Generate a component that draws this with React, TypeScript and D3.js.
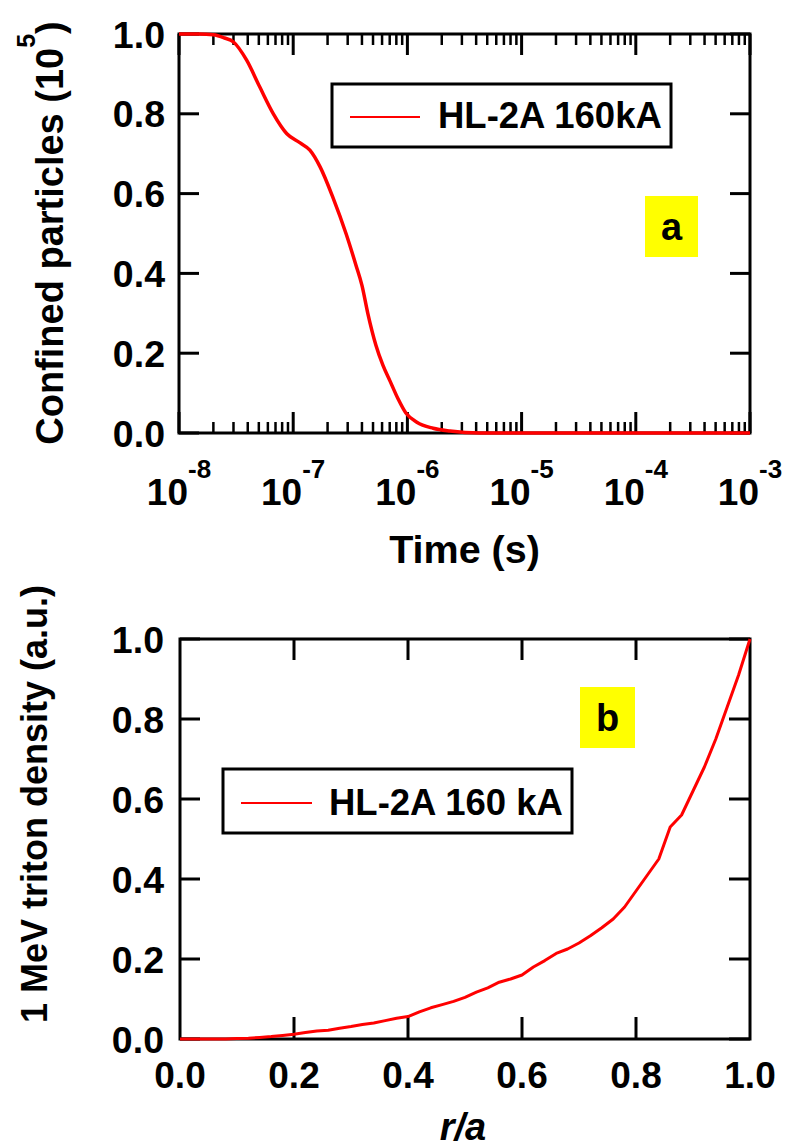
import React from "react";
import * as d3 from "d3";

// Panel a: confined particle count (units of 1e5) versus time
const timeS = [
  1e-8, 1.5e-8, 2e-8, 2.5e-8, 3e-8, 3.9e-8, 5.1e-8, 6.7e-8, 8.8e-8, 1.15e-7,
  1.4e-7, 1.72e-7, 2.23e-7, 2.9e-7, 3.55e-7, 4e-7, 4.5e-7, 5.3e-7, 6.1e-7,
  7.05e-7, 8.3e-7, 9.7e-7, 1.21e-6, 1.68e-6, 2.36e-6, 4.3e-6, 1e-5, 1e-4, 1e-3,
];
const confined = [
  1.0, 1.0, 0.998, 0.99, 0.98, 0.935, 0.867, 0.8, 0.75, 0.727, 0.709, 0.667,
  0.59, 0.5, 0.42, 0.37, 0.3, 0.22, 0.17, 0.13, 0.085, 0.05, 0.027, 0.012,
  0.005, 0, 0, 0, 0,
];

// Panel b: 1 MeV triton density profile versus normalised radius
const rOverA = [
  0, 0.02, 0.04, 0.06, 0.08, 0.1, 0.12, 0.14, 0.16, 0.18, 0.2, 0.22, 0.24,
  0.26, 0.28, 0.3, 0.32, 0.34, 0.36, 0.38, 0.4, 0.42, 0.44, 0.46, 0.48, 0.5,
  0.52, 0.54, 0.56, 0.58, 0.6, 0.62, 0.64, 0.66, 0.68, 0.7, 0.72, 0.74, 0.76,
  0.78, 0.8, 0.82, 0.84, 0.86, 0.88, 0.9, 0.92, 0.94, 0.96, 0.98, 1.0,
];
const tritonDensity = [
  0, 0, 0, 0, 0, 0.001, 0.002, 0.004, 0.006, 0.009, 0.012, 0.016, 0.02, 0.022,
  0.027, 0.031, 0.036, 0.04, 0.046, 0.052, 0.056, 0.068, 0.078, 0.086, 0.094,
  0.104, 0.117, 0.128, 0.142, 0.15, 0.16, 0.18, 0.196, 0.214, 0.225, 0.24,
  0.258, 0.278, 0.3, 0.33, 0.37, 0.41, 0.45, 0.53, 0.56, 0.62, 0.68, 0.75,
  0.83, 0.91, 1.0,
];

const yTicks = [0, 0.2, 0.4, 0.6, 0.8, 1.0];
const yTickLabels = ["0.0", "0.2", "0.4", "0.6", "0.8", "1.0"];
const decadeExps = [-8, -7, -6, -5, -4, -3];
const rTicks = [0, 0.2, 0.4, 0.6, 0.8, 1.0];
const rTickLabels = ["0.0", "0.2", "0.4", "0.6", "0.8", "1.0"];

const seriesLabelA = "HL-2A 160kA";
const seriesLabelB = "HL-2A 160 kA";

const FONT = "'Liberation Sans', Arial, Helvetica, sans-serif";
const RED = "#ff0000";

export default function App() {
  // scales, panel a
  const xA = d3.scaleLog().domain([1e-8, 1e-3]).range([179, 750]);
  const yA = d3.scaleLinear().domain([0, 1]).range([433, 34]);
  // scales, panel b
  const xB = d3.scaleLinear().domain([0, 1]).range([180, 750]);
  const yB = d3.scaleLinear().domain([0, 1]).range([1039, 639]);

  const lineA = d3
    .line<number>()
    .x((_, i) => xA(timeS[i]))
    .y((d) => yA(d))
    .curve(d3.curveMonotoneX);
  const lineB = d3
    .line<number>()
    .x((_, i) => xB(rOverA[i]))
    .y((d) => yB(d))
    .curve(d3.curveLinear);

  const majorDecades = decadeExps.map((e) => Math.pow(10, e));
  const minorLog: number[] = [];
  decadeExps.slice(0, -1).forEach((e) => {
    for (let k = 2; k <= 9; k++) minorLog.push(k * Math.pow(10, e));
  });

  const [ax0, ax1] = xA.range();
  const [ay0, ay1] = yA.range(); // bottom, top
  const [bx0, bx1] = xB.range();
  const [by0, by1] = yB.range();

  const axisStroke = { stroke: "#000", strokeWidth: 3, fill: "none" };
  const major = 21;
  const minor = 11;

  return (
    <svg
      width={787}
      height={1147}
      style={{ position: "absolute", left: 0, top: 0, background: "#fff" }}
      fontFamily={FONT}
      fontWeight="bold"
    >
      {/* ---------- Panel a ---------- */}
      <g>
        {/* log ticks on bottom and top */}
        {majorDecades.map((v, i) => (
          <g key={"ma" + i}>
            <line x1={xA(v)} x2={xA(v)} y1={ay0} y2={ay0 - major} {...axisStroke} />
            <line x1={xA(v)} x2={xA(v)} y1={ay1} y2={ay1 + major} {...axisStroke} />
          </g>
        ))}
        {minorLog.map((v, i) => (
          <g key={"mi" + i}>
            <line x1={xA(v)} x2={xA(v)} y1={ay0} y2={ay0 - minor} stroke="#000" strokeWidth={2.5} />
            <line x1={xA(v)} x2={xA(v)} y1={ay1} y2={ay1 + minor} stroke="#000" strokeWidth={2.5} />
          </g>
        ))}
        {/* y ticks left and right */}
        {yTicks.map((v, i) => (
          <g key={"ya" + i}>
            <line x1={ax0} x2={ax0 + 20} y1={yA(v)} y2={yA(v)} {...axisStroke} />
            <line x1={ax1} x2={ax1 - 20} y1={yA(v)} y2={yA(v)} {...axisStroke} />
            <text x={165} y={yA(v)} dy="0.36em" textAnchor="end" fontSize={37.5}>
              {yTickLabels[i]}
            </text>
          </g>
        ))}
        {/* decade labels */}
        {decadeExps.map((e, i) => (
          <text key={"xl" + i} x={xA(Math.pow(10, e))} y={505} textAnchor="middle" fontSize={37}>
            10
            <tspan fontSize={26} dy={-27}>
              {String(e)}
            </tspan>
          </text>
        ))}
        <rect x={ax0} y={ay1} width={ax1 - ax0} height={ay0 - ay1} {...axisStroke} />

        <path d={lineA(confined) || ""} fill="none" stroke={RED} strokeWidth={3.5} strokeLinejoin="round" />

        {/* axis titles */}
        <text x={464.5} y={563} textAnchor="middle" fontSize={39.5}>
          Time (s)
        </text>
        <text transform="translate(63,233) rotate(-90)" textAnchor="middle" fontSize={38}>
          Confined particles (10
          <tspan fontSize={25} dy={-28}>5</tspan>
          <tspan dy={28}>)</tspan>
        </text>

        {/* legend */}
        <rect x={332} y={84} width={339} height={63} fill="#fff" stroke="#000" strokeWidth={3} />
        <line x1={350} x2={420} y1={117} y2={117} stroke={RED} strokeWidth={2} />
        <text x={438} y={128} fontSize={36.5}>
          {seriesLabelA}
        </text>

        {/* panel tag */}
        <rect x={645} y={196} width={53} height={61} fill="#ffff00" />
        <text x={671.5} y={226.5} dy="0.36em" textAnchor="middle" fontSize={38}>
          a
        </text>
      </g>

      {/* ---------- Panel b ---------- */}
      <g>
        {rTicks.map((v, i) => (
          <g key={"xb" + i}>
            {i > 0 && i < rTicks.length - 1 && (
              <>
                <line x1={xB(v)} x2={xB(v)} y1={by0} y2={by0 - 22} {...axisStroke} />
                <line x1={xB(v)} x2={xB(v)} y1={by1} y2={by1 + 21} {...axisStroke} />
              </>
            )}
            <text x={xB(v)} y={1088} textAnchor="middle" fontSize={37}>
              {rTickLabels[i]}
            </text>
          </g>
        ))}
        {yTicks.map((v, i) => (
          <g key={"yb" + i}>
            <line x1={bx0} x2={bx0 + 20} y1={yB(v)} y2={yB(v)} {...axisStroke} />
            <line x1={bx1} x2={bx1 - 21} y1={yB(v)} y2={yB(v)} {...axisStroke} />
            <text x={164} y={yB(v)} dy="0.36em" textAnchor="end" fontSize={37.5}>
              {yTickLabels[i]}
            </text>
          </g>
        ))}
        <rect x={bx0} y={by1} width={bx1 - bx0} height={by0 - by1} {...axisStroke} />

        <path d={lineB(tritonDensity) || ""} fill="none" stroke={RED} strokeWidth={3} strokeLinejoin="round" />

        <text x={463} y={1140} textAnchor="middle" fontSize={38} fontStyle="italic">
          r/a
        </text>
        <text transform="translate(47,804) rotate(-90)" textAnchor="middle" fontSize={36}>
          1 MeV triton density (a.u.)
        </text>

        {/* legend */}
        <rect x={223} y={769} width={349} height={64} fill="#fff" stroke="#000" strokeWidth={3} />
        <line x1={241} x2={312} y1={803} y2={803} stroke={RED} strokeWidth={2} />
        <text x={329} y={815} fontSize={36.5}>
          {seriesLabelB}
        </text>

        {/* panel tag */}
        <rect x={580} y={687} width={55} height={61} fill="#ffff00" />
        <text x={607.5} y={717.5} dy="0.36em" textAnchor="middle" fontSize={38}>
          b
        </text>
      </g>
    </svg>
  );
}
